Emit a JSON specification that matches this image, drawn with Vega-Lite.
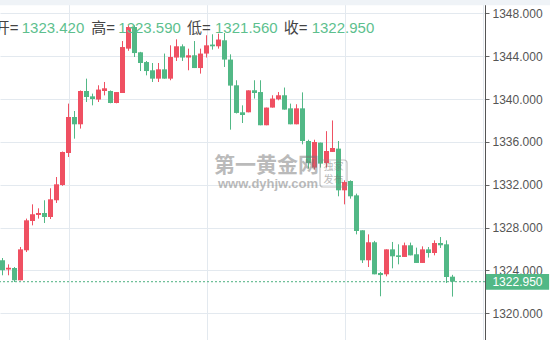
{
  "$schema": "https://vega.github.io/schema/vega-lite/v6.json",
  "width": 485,
  "height": 340,
  "padding": {"left": 0, "top": 0, "right": 65, "bottom": 0},
  "autosize": "none",
  "background": "white",
  "config": {"view": {"stroke": null}, "font": "Liberation Sans"},
  "datasets": {
    "k": [
      {"i":0,"o":1324.95,"h":1325.16,"l":1323.55,"c":1324.01},
      {"i":1,"o":1324.08,"h":1324.57,"l":1323.55,"c":1324.26},
      {"i":2,"o":1324.23,"h":1324.32,"l":1322.92,"c":1323.08},
      {"i":3,"o":1323.08,"h":1326.19,"l":1323.08,"c":1325.97},
      {"i":4,"o":1325.88,"h":1328.84,"l":1325.72,"c":1328.68},
      {"i":5,"o":1328.61,"h":1330.17,"l":1328.21,"c":1329.24},
      {"i":6,"o":1329.18,"h":1329.80,"l":1328.84,"c":1329.36},
      {"i":7,"o":1329.36,"h":1330.55,"l":1328.43,"c":1328.99},
      {"i":8,"o":1328.99,"h":1331.67,"l":1328.80,"c":1330.64},
      {"i":9,"o":1330.55,"h":1332.72,"l":1330.30,"c":1332.04},
      {"i":10,"o":1331.98,"h":1335.10,"l":1331.90,"c":1335.06},
      {"i":11,"o":1334.96,"h":1339.57,"l":1334.59,"c":1338.32},
      {"i":12,"o":1338.32,"h":1338.88,"l":1336.30,"c":1337.64},
      {"i":13,"o":1337.64,"h":1340.80,"l":1337.24,"c":1340.75},
      {"i":14,"o":1340.75,"h":1341.90,"l":1339.72,"c":1340.19},
      {"i":15,"o":1340.25,"h":1340.50,"l":1339.41,"c":1340.00},
      {"i":16,"o":1339.95,"h":1341.28,"l":1339.72,"c":1340.88},
      {"i":17,"o":1340.75,"h":1341.59,"l":1340.34,"c":1341.00},
      {"i":18,"o":1340.75,"h":1340.80,"l":1339.60,"c":1339.63},
      {"i":19,"o":1339.63,"h":1340.65,"l":1339.60,"c":1340.65},
      {"i":20,"o":1340.56,"h":1345.41,"l":1340.56,"c":1344.85},
      {"i":21,"o":1344.70,"h":1346.88,"l":1344.50,"c":1346.72},
      {"i":22,"o":1346.72,"h":1346.88,"l":1343.92,"c":1344.29},
      {"i":23,"o":1344.36,"h":1344.40,"l":1342.61,"c":1343.36},
      {"i":24,"o":1343.45,"h":1343.55,"l":1342.21,"c":1342.61},
      {"i":25,"o":1342.68,"h":1343.36,"l":1341.59,"c":1341.90},
      {"i":26,"o":1341.90,"h":1343.36,"l":1341.59,"c":1342.77},
      {"i":27,"o":1342.77,"h":1344.24,"l":1341.90,"c":1341.90},
      {"i":28,"o":1341.90,"h":1345.01,"l":1341.75,"c":1343.92},
      {"i":29,"o":1343.87,"h":1345.57,"l":1343.55,"c":1344.92},
      {"i":30,"o":1344.92,"h":1345.10,"l":1343.55,"c":1343.87},
      {"i":31,"o":1343.87,"h":1344.70,"l":1342.68,"c":1344.08},
      {"i":32,"o":1344.08,"h":1345.41,"l":1342.89,"c":1342.89},
      {"i":33,"o":1342.89,"h":1344.70,"l":1342.37,"c":1344.24},
      {"i":34,"o":1344.24,"h":1345.95,"l":1343.87,"c":1345.01},
      {"i":35,"o":1345.08,"h":1346.04,"l":1344.61,"c":1344.92},
      {"i":36,"o":1344.92,"h":1346.10,"l":1344.70,"c":1345.55},
      {"i":37,"o":1345.48,"h":1346.16,"l":1342.99,"c":1343.68},
      {"i":38,"o":1343.68,"h":1344.17,"l":1337.14,"c":1341.25},
      {"i":39,"o":1341.28,"h":1341.75,"l":1338.65,"c":1338.70},
      {"i":40,"o":1338.76,"h":1339.41,"l":1337.76,"c":1338.51},
      {"i":41,"o":1338.76,"h":1340.81,"l":1338.76,"c":1340.81},
      {"i":42,"o":1340.81,"h":1341.75,"l":1340.04,"c":1340.56},
      {"i":43,"o":1340.65,"h":1341.75,"l":1337.55,"c":1337.55},
      {"i":44,"o":1337.55,"h":1339.20,"l":1337.55,"c":1339.20},
      {"i":45,"o":1339.20,"h":1340.35,"l":1339.20,"c":1340.04},
      {"i":46,"o":1339.97,"h":1340.65,"l":1339.88,"c":1340.35},
      {"i":47,"o":1340.35,"h":1341.07,"l":1339.01,"c":1339.01},
      {"i":48,"o":1339.13,"h":1339.57,"l":1337.64,"c":1337.64},
      {"i":49,"o":1337.64,"h":1339.51,"l":1337.64,"c":1339.13},
      {"i":50,"o":1339.13,"h":1340.62,"l":1335.77,"c":1336.08},
      {"i":51,"o":1336.08,"h":1336.20,"l":1333.50,"c":1334.03},
      {"i":52,"o":1333.60,"h":1336.20,"l":1333.40,"c":1335.99},
      {"i":53,"o":1335.93,"h":1335.93,"l":1333.60,"c":1333.97},
      {"i":54,"o":1334.03,"h":1337.00,"l":1333.60,"c":1335.15},
      {"i":55,"o":1335.06,"h":1338.00,"l":1335.06,"c":1335.43},
      {"i":56,"o":1335.37,"h":1336.08,"l":1330.92,"c":1331.48},
      {"i":57,"o":1331.48,"h":1332.41,"l":1330.17,"c":1332.25},
      {"i":58,"o":1332.35,"h":1332.41,"l":1330.70,"c":1330.92},
      {"i":59,"o":1331.01,"h":1331.17,"l":1327.37,"c":1327.68},
      {"i":60,"o":1327.75,"h":1327.75,"l":1324.70,"c":1324.95},
      {"i":61,"o":1324.95,"h":1327.37,"l":1324.32,"c":1326.63},
      {"i":62,"o":1326.63,"h":1326.76,"l":1323.64,"c":1323.64},
      {"i":63,"o":1323.76,"h":1323.86,"l":1321.59,"c":1323.57},
      {"i":64,"o":1323.64,"h":1325.97,"l":1323.45,"c":1325.97},
      {"i":65,"o":1325.97,"h":1326.66,"l":1324.20,"c":1325.32},
      {"i":66,"o":1325.41,"h":1326.44,"l":1324.57,"c":1325.26},
      {"i":67,"o":1325.26,"h":1326.60,"l":1325.26,"c":1326.35},
      {"i":68,"o":1326.35,"h":1326.60,"l":1325.41,"c":1325.41},
      {"i":69,"o":1325.51,"h":1326.13,"l":1324.70,"c":1324.70},
      {"i":70,"o":1324.70,"h":1326.25,"l":1324.70,"c":1325.97},
      {"i":71,"o":1325.97,"h":1326.19,"l":1325.20,"c":1325.63},
      {"i":72,"o":1325.63,"h":1326.81,"l":1325.41,"c":1326.56},
      {"i":73,"o":1326.56,"h":1327.12,"l":1326.10,"c":1326.35},
      {"i":74,"o":1326.44,"h":1326.81,"l":1322.83,"c":1323.39},
      {"i":75,"o":1323.42,"h":1323.59,"l":1321.56,"c":1322.95}
    ]
  },
  "layer": [
    {
      "data": {"name": "k"},
      "mark": {"type": "rule", "strokeWidth": 1},
      "encoding": {
        "x": {"field": "i", "type": "quantitative",
          "scale": {"domain": [-0.4167, 80.4167], "nice": false, "zero": false, "padding": 0},
          "axis": {"values": [11.083, 34.083, 57.083, 80.083], "labels": false, "ticks": false, "domain": false, "title": null, "grid": true, "gridColor": "#e3e9ef"}},
        "y": {"field": "l", "type": "quantitative",
          "scale": {"domain": [1317.51, 1349.24], "nice": false, "zero": false, "padding": 0},
          "axis": {"orient": "right", "values": [1320, 1324, 1328, 1332, 1336, 1340, 1344, 1348], "format": ".3f", "title": null, "labelFontSize": 12, "labelColor": "#555555", "labelFont": "Liberation Sans", "tickColor": "#666666", "tickSize": 4, "labelPadding": 3, "domainColor": "#555555", "gridColor": "#e3e9ef"}},
        "y2": {"field": "h"},
        "color": {"condition": {"test": "datum.c >= datum.o", "value": "#ef5062"}, "value": "#52b886"}
      }
    },
    {
      "data": {"name": "k"},
      "mark": {"type": "bar", "size": 5},
      "encoding": {
        "x": {"field": "i", "type": "quantitative"},
        "y": {"field": "o", "type": "quantitative"},
        "y2": {"field": "c"},
        "color": {"condition": {"test": "datum.c >= datum.o", "value": "#ef5062"}, "value": "#52b886"}
      }
    },
    {
      "data": {"values": [{}]},
      "mark": {"type": "rect", "color": "#eff3f7"},
      "encoding": {
        "x": {"datum": -0.5, "type": "quantitative"}, "x2": {"datum": 91.5},
        "y": {"datum": 1349.3, "type": "quantitative"}, "y2": {"datum": 1348.76}
      }
    },
    {
      "data": {"values": [{}]},
      "mark": {"type": "rule", "strokeDash": [2, 2], "color": "#4cb07f", "strokeWidth": 1},
      "encoding": {"y": {"datum": 1322.95, "type": "quantitative"}}
    },
    {
      "data": {"values": [{}]},
      "mark": {"type": "rect", "color": "#52b886"},
      "encoding": {
        "x": {"datum": 80.58, "type": "quantitative"}, "x2": {"datum": 91.1},
        "y": {"datum": 1323.67, "type": "quantitative"}, "y2": {"datum": 1322.2}
      }
    },
    {
      "data": {"values": [{}]},
      "mark": {"type": "text", "color": "white", "fontSize": 12, "align": "center", "baseline": "middle"},
      "encoding": {
        "x": {"datum": 85.83, "type": "quantitative"},
        "y": {"datum": 1322.95, "type": "quantitative"},
        "text": {"value": "1322.950"}
      }
    },
    {
      "data": {"values": [{}]},
      "mark": {"type": "text", "color": "#777777", "opacity": 0.5, "fontSize": 21, "fontWeight": "bold", "font": "Noto Sans CJK SC", "align": "center", "baseline": "middle"},
      "encoding": {"x": {"datum": 44.0, "type": "quantitative"}, "y": {"datum": 1333.75, "type": "quantitative"}, "text": {"value": "第一黄金网"}}
    },
    {
      "data": {"values": [{}]},
      "mark": {"type": "text", "color": "#777777", "opacity": 0.5, "fontSize": 13, "fontWeight": "bold", "align": "center", "baseline": "middle"},
      "encoding": {"x": {"datum": 44.25, "type": "quantitative"}, "y": {"datum": 1332.1, "type": "quantitative"}, "text": {"value": "www.dyhjw.com"}}
    },
    {
      "data": {"values": [{}]},
      "mark": {"type": "rect", "fill": null, "stroke": "#888888", "strokeWidth": 1.2, "strokeOpacity": 0.5, "cornerRadius": 3},
      "encoding": {
        "x": {"datum": 52.92, "type": "quantitative"}, "x2": {"datum": 57.42},
        "y": {"datum": 1334.31, "type": "quantitative"}, "y2": {"datum": 1331.79}
      }
    },
    {
      "data": {"values": [{}]},
      "mark": {"type": "text", "color": "#777777", "opacity": 0.5, "fontSize": 10, "font": "Noto Sans CJK SC", "align": "center", "baseline": "middle"},
      "encoding": {"x": {"datum": 55.17, "type": "quantitative"}, "y": {"datum": 1333.65, "type": "quantitative"}, "text": {"value": "独家"}}
    },
    {
      "data": {"values": [{}]},
      "mark": {"type": "text", "color": "#777777", "opacity": 0.5, "fontSize": 10, "font": "Noto Sans CJK SC", "align": "center", "baseline": "middle"},
      "encoding": {"x": {"datum": 55.17, "type": "quantitative"}, "y": {"datum": 1332.44, "type": "quantitative"}, "text": {"value": "发布"}}
    },
    {
      "data": {"values": [{}]},
      "mark": {"type": "text", "color": "#444444", "fontSize": 15, "font": "Liberation Sans, Noto Sans CJK SC", "align": "right", "baseline": "alphabetic"},
      "encoding": {"x": {"datum": 2.67, "type": "quantitative"}, "y": {"datum": 1346.13, "type": "quantitative"}, "text": {"value": "开="}}
    },
    {
      "data": {"values": [{}]},
      "mark": {"type": "text", "color": "#5dbf8e", "fontSize": 15, "align": "left", "baseline": "alphabetic"},
      "encoding": {"x": {"datum": 3.2, "type": "quantitative"}, "y": {"datum": 1346.13, "type": "quantitative"}, "text": {"value": "1323.420"}}
    },
    {
      "data": {"values": [{}]},
      "mark": {"type": "text", "color": "#444444", "fontSize": 15, "font": "Liberation Sans, Noto Sans CJK SC", "align": "right", "baseline": "alphabetic"},
      "encoding": {"x": {"datum": 18.75, "type": "quantitative"}, "y": {"datum": 1346.13, "type": "quantitative"}, "text": {"value": "高="}}
    },
    {
      "data": {"values": [{}]},
      "mark": {"type": "text", "color": "#5dbf8e", "fontSize": 15, "align": "left", "baseline": "alphabetic"},
      "encoding": {"x": {"datum": 19.3, "type": "quantitative"}, "y": {"datum": 1346.13, "type": "quantitative"}, "text": {"value": "1323.590"}}
    },
    {
      "data": {"values": [{}]},
      "mark": {"type": "text", "color": "#444444", "fontSize": 15, "font": "Liberation Sans, Noto Sans CJK SC", "align": "right", "baseline": "alphabetic"},
      "encoding": {"x": {"datum": 34.72, "type": "quantitative"}, "y": {"datum": 1346.13, "type": "quantitative"}, "text": {"value": "低="}}
    },
    {
      "data": {"values": [{}]},
      "mark": {"type": "text", "color": "#5dbf8e", "fontSize": 15, "align": "left", "baseline": "alphabetic"},
      "encoding": {"x": {"datum": 35.42, "type": "quantitative"}, "y": {"datum": 1346.13, "type": "quantitative"}, "text": {"value": "1321.560"}}
    },
    {
      "data": {"values": [{}]},
      "mark": {"type": "text", "color": "#444444", "fontSize": 15, "font": "Liberation Sans, Noto Sans CJK SC", "align": "right", "baseline": "alphabetic"},
      "encoding": {"x": {"datum": 50.83, "type": "quantitative"}, "y": {"datum": 1346.13, "type": "quantitative"}, "text": {"value": "收="}}
    },
    {
      "data": {"values": [{}]},
      "mark": {"type": "text", "color": "#5dbf8e", "fontSize": 15, "align": "left", "baseline": "alphabetic"},
      "encoding": {"x": {"datum": 51.53, "type": "quantitative"}, "y": {"datum": 1346.13, "type": "quantitative"}, "text": {"value": "1322.950"}}
    }
  ]
}
